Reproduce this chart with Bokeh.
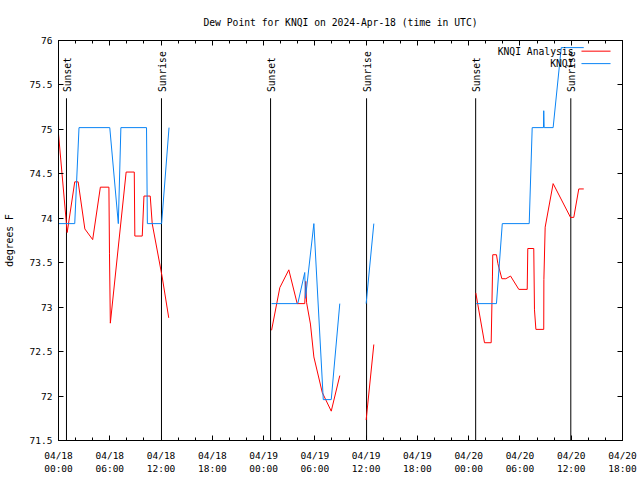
import math
import pandas as pd
from bokeh.plotting import figure
from bokeh.models import (Range1d, FixedTicker, LinearAxis, DatetimeAxis,
                          NumeralTickFormatter)
from bokeh.core.properties import value
from bokeh.embed import file_html
from bokeh.resources import INLINE

# ---------------- data ----------------
title_text = "Dew Point for KNQI on 2024-Apr-18 (time in UTC)"
y_label = "degrees F"

analysis_time = [
    "2024-04-18 00:00", "2024-04-18 01:01", "2024-04-18 01:54", "2024-04-18 02:18",
    "2024-04-18 03:05", "2024-04-18 04:00", "2024-04-18 04:54", "2024-04-18 05:54",
    "2024-04-18 05:58", "2024-04-18 06:04", "2024-04-18 07:55", "2024-04-18 08:52",
    "2024-04-18 08:56", "2024-04-18 09:48", "2024-04-18 10:00", "2024-04-18 10:44",
    "2024-04-18 10:58", "2024-04-18 12:08", "2024-04-18 12:54",
    None,
    "2024-04-19 00:56", "2024-04-19 01:54", "2024-04-19 02:57", "2024-04-19 03:56",
    "2024-04-19 04:49", "2024-04-19 04:56", "2024-04-19 05:02", "2024-04-19 05:29",
    "2024-04-19 05:53", "2024-04-19 06:52", "2024-04-19 07:55", "2024-04-19 08:55",
    None,
    "2024-04-19 12:00", "2024-04-19 12:54",
    None,
    "2024-04-20 00:50", "2024-04-20 01:51", "2024-04-20 02:38", "2024-04-20 02:47",
    "2024-04-20 02:49", "2024-04-20 03:15", "2024-04-20 03:25", "2024-04-20 03:53",
    "2024-04-20 04:21", "2024-04-20 04:54", "2024-04-20 05:52", "2024-04-20 06:51",
    "2024-04-20 06:55", "2024-04-20 07:37", "2024-04-20 07:42", "2024-04-20 07:52",
    "2024-04-20 08:47", "2024-04-20 08:48", "2024-04-20 08:57", "2024-04-20 09:53",
    "2024-04-20 11:55", "2024-04-20 12:18", "2024-04-20 12:53", "2024-04-20 13:28",
]
analysis_dew = [
    74.95, 73.84, 74.41, 74.41,
    73.88, 73.76, 74.35, 74.35,
    73.60, 72.82, 74.52, 74.52,
    73.80, 73.80, 74.25, 74.25,
    73.94, 73.34, 72.88,
    None,
    72.74, 73.22, 73.42, 73.04,
    73.04, 73.29, 73.05, 72.81,
    72.44, 72.04, 71.83, 72.23,
    None,
    71.73, 72.58,
    None,
    73.16, 72.60, 72.60, 73.35,
    73.59, 73.59, 73.49, 73.32,
    73.32, 73.35, 73.20, 73.20,
    73.66, 73.66, 72.97, 72.75,
    72.75, 73.31, 73.90, 74.39,
    74.01, 74.01, 74.33, 74.33,
]

knqi_time = [
    "2024-04-18 00:00", "2024-04-18 01:54", "2024-04-18 02:24", "2024-04-18 06:00",
    "2024-04-18 07:00", "2024-04-18 07:18", "2024-04-18 10:18", "2024-04-18 10:24",
    "2024-04-18 12:04", "2024-04-18 12:56",
    None,
    "2024-04-19 00:56", "2024-04-19 04:00", "2024-04-19 04:49", "2024-04-19 04:54",
    "2024-04-19 05:53", "2024-04-19 06:59", "2024-04-19 07:55", "2024-04-19 08:55",
    None,
    "2024-04-19 12:00", "2024-04-19 12:54",
    None,
    "2024-04-20 00:53", "2024-04-20 03:15", "2024-04-20 03:56", "2024-04-20 07:05",
    "2024-04-20 07:26", "2024-04-20 08:45", "2024-04-20 08:47", "2024-04-20 08:50",
    "2024-04-20 09:53", "2024-04-20 10:50", "2024-04-20 13:28",
]
knqi_dew = [
    73.94, 73.94, 75.02, 75.02,
    73.94, 75.02, 75.02, 73.94,
    73.94, 75.02,
    None,
    73.04, 73.04, 73.39, 73.10,
    73.94, 71.96, 71.96, 73.04,
    None,
    73.04, 73.94,
    None,
    73.04, 73.04, 73.94, 73.94,
    75.02, 75.02, 75.21, 75.02,
    75.02, 75.92, 75.92,
]

sunset_time = ["2024-04-18 00:56", "2024-04-19 00:49", "2024-04-20 00:49"]
sunrise_time = ["2024-04-18 12:03", "2024-04-19 12:03", "2024-04-20 11:57"]

x_start = "2024-04-18 00:00"
x_end = "2024-04-20 18:00"
x_tick_time = ["2024-04-18 00:00", "2024-04-18 06:00", "2024-04-18 12:00", "2024-04-18 18:00",
               "2024-04-19 00:00", "2024-04-19 06:00", "2024-04-19 12:00", "2024-04-19 18:00",
               "2024-04-20 00:00", "2024-04-20 06:00", "2024-04-20 12:00", "2024-04-20 18:00"]
x_tick_labels = ["04/18\n00:00", "04/18\n06:00", "04/18\n12:00", "04/18\n18:00",
                 "04/19\n00:00", "04/19\n06:00", "04/19\n12:00", "04/19\n18:00",
                 "04/20\n00:00", "04/20\n06:00", "04/20\n12:00", "04/20\n18:00"]
y_min, y_max = 71.5, 76
y_ticks = [71.5, 72, 72.5, 73, 73.5, 74, 74.5, 75, 75.5, 76]

series_names = ["KNQI Analysis", "KNQI"]
series_colors = ["#ff0000", "#0a84f5"]

# ---------------- helpers ----------------
def ms(t):
    return pd.Timestamp(t).value / 1e6

def xs_of(times):
    return [ms(t) if t is not None else float("nan") for t in times]

def ys_of(vals):
    return [v if v is not None else float("nan") for v in vals]

FONT_NAME = "DejaVu Sans Mono"
FONT = value(FONT_NAME)
FS = "9.7px"
TICK_FS = "9.5px"

p = figure(width=640, height=480, output_backend="svg", toolbar_location=None,
           x_axis_type="datetime",
           x_range=Range1d(ms(x_start), ms(x_end)),
           y_range=Range1d(y_min, y_max),
           min_border_left=58, min_border_right=18,
           min_border_top=40, min_border_bottom=40)

p.title.text = title_text
p.title.align = "center"
p.title.text_font = FONT_NAME
p.title.text_font_size = FS
p.title.text_font_style = "normal"
p.title.text_color = "black"
p.title.standoff = 26

p.grid.visible = False
p.outline_line_color = "black"
p.outline_line_width = 1

x_ticks_ms = [ms(t) for t in x_tick_time]
minor_ms = [ms(x_start) + h * 3600e3 for h in range(0, 67, 2)]
xticker = FixedTicker(ticks=x_ticks_ms, minor_ticks=minor_ms)
yticker = FixedTicker(ticks=y_ticks, minor_ticks=[])

xa = p.xaxis[0]
xa.ticker = xticker
xa.major_label_overrides = {k: lab for k, lab in zip(x_ticks_ms, x_tick_labels)}
ya = p.yaxis[0]
ya.ticker = yticker
ya.formatter = NumeralTickFormatter(format="0.[0]")
ya.axis_label = y_label
ya.axis_label_text_font_style = "normal"
ya.axis_label_standoff = 12

for ax in (xa, ya):
    ax.major_tick_in = 5
    ax.major_tick_out = 0
    ax.minor_tick_in = 3
    ax.minor_tick_out = 0
    ax.axis_line_color = "black"
    ax.major_tick_line_color = "black"
    ax.minor_tick_line_color = "black"
    ax.major_label_text_font = FONT_NAME
    ax.major_label_text_font_size = TICK_FS
    ax.major_label_text_color = "black"
    ax.axis_label_text_font = FONT_NAME
    ax.axis_label_text_font_size = FS
    ax.axis_label_text_color = "black"
xa.major_label_standoff = 9
ya.major_label_standoff = 6

# mirrored tick marks (no labels)
top = DatetimeAxis(ticker=xticker)
right = LinearAxis(ticker=yticker)
for ax in (top, right):
    ax.major_tick_in = 5
    ax.major_tick_out = 0
    ax.minor_tick_in = 3
    ax.minor_tick_out = 0
    ax.major_label_text_font_size = "0px"
    ax.major_label_text_color = None
    ax.major_label_text_alpha = 0
    ax.major_label_standoff = 0
    ax.axis_line_color = "black"
    ax.major_tick_line_color = "black"
    ax.minor_tick_line_color = "black"
p.add_layout(top, "above")
p.add_layout(right, "right")

# sunrise / sunset markers
sun_line_top = 75.35
sun_text_y = 75.42
for times, lab in ((sunset_time, "Sunset"), (sunrise_time, "Sunrise")):
    xs = [ms(t) for t in times]
    p.segment(x0=xs, x1=xs, y0=[y_min] * len(xs), y1=[sun_line_top] * len(xs),
              line_color="black", line_width=1)
    p.text(x=xs, y=[sun_text_y] * len(xs), text=[lab] * len(xs), angle=math.pi / 2,
           text_align="left", text_baseline="middle", text_font=FONT,
           text_font_size=FS, text_color="black", y_offset=0, x_offset=1)

# data lines
p.line(xs_of(analysis_time), ys_of(analysis_dew), line_color=series_colors[0], line_width=1)
p.line(xs_of(knqi_time), ys_of(knqi_dew), line_color=series_colors[1], line_width=1)

# gnuplot-style key (text then sample)
key_text_x = ms("2024-04-20 12:16")
key_line_x0 = ms("2024-04-20 13:12")
key_line_x1 = ms("2024-04-20 16:36")
key_rows = [75.88, 75.74]
p.text(x=[key_text_x] * 2, y=key_rows, text=series_names, text_align="right",
       text_baseline="middle", text_font=FONT, text_font_size=FS, text_color="black")
p.segment(x0=[key_line_x0] * 2, x1=[key_line_x1] * 2, y0=key_rows, y1=key_rows,
          line_color=series_colors, line_width=1)

open("out.html", "w").write(file_html(p, INLINE))
